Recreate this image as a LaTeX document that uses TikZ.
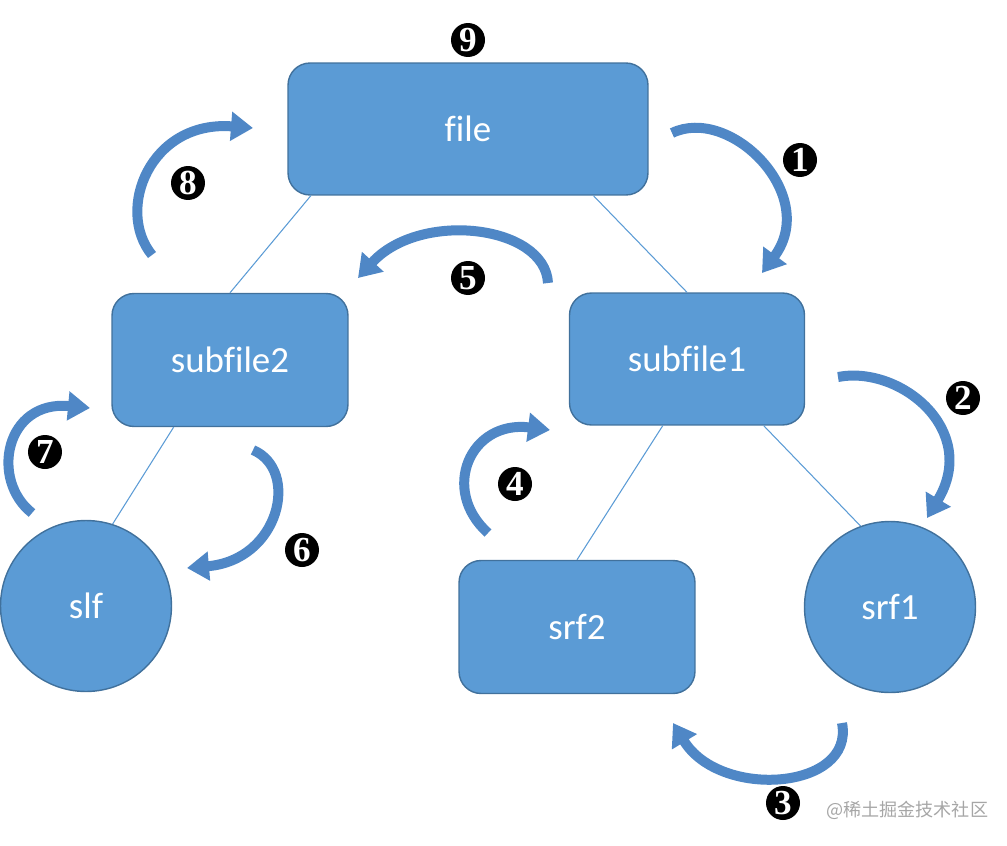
\documentclass[tikz,border=0pt]{standalone}
\usepackage{fontspec}
\setmainfont{Carlito}[Ligatures=NoCommon]
\newfontfamily\numfont{Liberation Serif}
\newfontfamily\cjk{Noto Sans CJK SC}
\usetikzlibrary{arrows.meta}
\definecolor{nodeblue}{HTML}{5B9BD5}
\definecolor{edgeblue}{HTML}{41719C}
\definecolor{arrowblue}{HTML}{4F87C6}

\begin{document}
\begin{tikzpicture}[x=0.02cm,y=-0.02cm]
				\useasboundingbox (0,0) rectangle (1007,845);
				\tikzstyle{every node}=[font=\fontsize{21}{25}\selectfont,text=white]
				\tikzstyle{box}=[draw=edgeblue,fill=nodeblue,rounded corners=0.44cm,
				line width=0.8pt,minimum width=4.72cm,minimum height=2.66cm]
				\tikzstyle{ball}=[draw=edgeblue,fill=nodeblue,circle,
				line width=0.8pt,minimum size=3.42cm]
				\tikzstyle{link}=[draw=nodeblue,line width=0.6pt]
				\tikzstyle{turn}=[draw=arrowblue,line width=0.2cm,
				-{Triangle[width=0.56cm,length=0.44cm]}]
				\tikzstyle{num}=[circle,fill=black,inner sep=0pt,minimum size=0.68cm,
				font=\numfont\fontsize{20}{20}\selectfont\bfseries]
				% the tree
				\node[box,minimum width=7.2cm,minimum height=2.64cm] (file) at (468,129) {file};
				\node[box] (sub2) at (230,360) {subfile2};
				\node[box,minimum width=4.7cm,minimum height=2.64cm] (sub1) at (687,359) {subfile1};
				\node[ball] (slf) at (86,606) {slf};
				\node[box] (srf2) at (577,627) {srf2};
				\node[ball] (srf1) at (890,607) {srf1};
				\draw[link] (file.203) -- (sub2.north);
				\draw[link] (file.332) -- (sub1.north);
				\draw[link] (sub2.230) -- (slf.72);
				\draw[link] (sub1.250) -- (srf2.north);
				\draw[link] (sub1.319) -- (srf1.110);
				% the walk
				\coordinate (t1) at (672,133); \coordinate (h1) at (762,273);
				\coordinate (t2) at (838,377); \coordinate (h2) at (927,518);
				\coordinate (t3) at (842,723); \coordinate (h3) at (673,723);
				\coordinate (t4) at (488,533); \coordinate (h4) at (550,430);
				\coordinate (t5) at (548,283); \coordinate (h5) at (358,278);
				\coordinate (t6) at (253,450); \coordinate (h6) at (187,568);
				\coordinate (t7) at (32,513); \coordinate (h7) at (90,408);
				\coordinate (t8) at (152,255); \coordinate (h8) at (253,128);
				\draw[turn] (t1) .. controls (730,105) and (820,195) .. (h1);
				\draw[turn] (t2) .. controls (900,365) and (980,430) .. (h2);
				\draw[turn] (t3) .. controls (855,790) and (720,800) .. (h3);
				\draw[turn] (t4) .. controls (440,490) and (470,420) .. (h4);
				\draw[turn] (t5) .. controls (545,225) and (420,210) .. (h5);
				\draw[turn] (t6) .. controls (300,470) and (280,560) .. (h6);
				\draw[turn] (t7) .. controls (-10,480) and (5,400) .. (h7);
				\draw[turn] (t8) .. controls (115,210) and (150,120) .. (h8);
				\node[num] (n1) at (800,160) {1};
				\node[num] (n2) at (963,398) {2};
				\node[num] (n3) at (783,803) {3};
				\node[num] (n4) at (515,484) {4};
				\node[num] (n5) at (468,278) {5};
				\node[num] (n6) at (302,550) {6};
				\node[num] (n7) at (45,452) {7};
				\node[num] (n8) at (188,183) {8};
				\node[num] (n9) at (468,40) {9};
				\node[anchor=west,text=gray!70,font=\cjk\fontsize{10.3}{11}\selectfont] (mark) at (820,810) {@稀土掘金技术社区};
\end{tikzpicture}
\end{document}
